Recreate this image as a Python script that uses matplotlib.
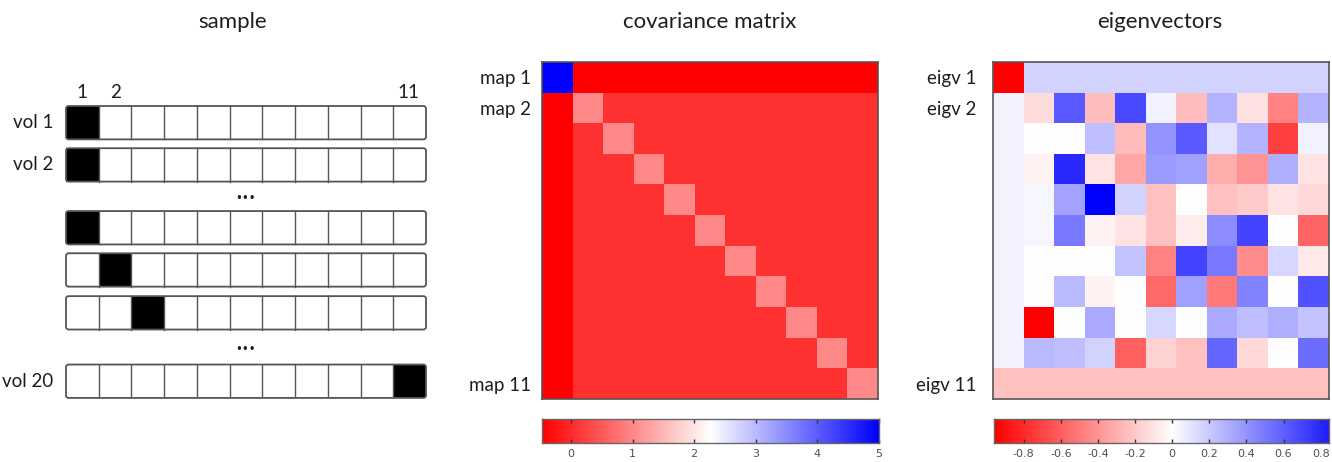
import numpy as np
import matplotlib
matplotlib.use("Agg")
import matplotlib.pyplot as plt
from matplotlib.colors import LinearSegmentedColormap, Normalize
from matplotlib.patches import Rectangle, FancyBboxPatch

plt.rcParams['font.family'] = ['Lato', 'DejaVu Sans']

# ---------------- data ----------------
titles = ["sample", "covariance matrix", "eigenvectors"]

vol_labels = ["vol 1", "vol 2", "", "", "", "vol 20"]
active_map = [1, 1, 1, 2, 3, 11]          # which map (1..11) is "on" in each shown volume
n_maps = 11
col_labels = {1: "1", 2: "2", 11: "11"}

cov_first = 5.0          # variance of map 1
cov_first_other = -0.5   # covariance of map 1 with the others
cov_diag = 1.0           # variance of maps 2..11
cov_off = 0.05           # covariance among maps 2..11
cov_vmin, cov_vmax = -0.47, 5.0
cov_ticks = [0, 1, 2, 3, 4, 5]
cov_labels = ["map 1", "map 2", "map 11"]

eig = np.array([
    [-0.96] + [0.17] * 10,
    [0.05, -0.13, 0.62, -0.25, 0.68, 0.05, -0.25, 0.28, -0.12, -0.47, 0.28],
    [0.05, 0.00, 0.00, 0.24, -0.26, 0.40, 0.62, 0.11, 0.28, -0.72, 0.05],
    [0.05, -0.05, 0.80, -0.10, -0.33, 0.38, 0.36, -0.30, -0.40, 0.30, -0.10],
    [0.05, 0.03, 0.34, 0.96, 0.17, -0.24, 0.00, -0.24, -0.20, -0.10, -0.15],
    [0.05, 0.03, 0.50, -0.05, -0.10, -0.24, -0.07, 0.43, 0.70, 0.00, -0.58],
    [0.05, 0.00, 0.00, 0.00, 0.22, -0.47, 0.70, 0.50, -0.43, 0.15, -0.09],
    [0.05, 0.00, 0.26, -0.05, 0.00, -0.57, 0.36, -0.50, 0.47, 0.00, 0.65],
    [0.05, -0.96, 0.00, 0.32, 0.00, 0.15, 0.00, 0.32, 0.24, 0.30, 0.22],
    [0.05, 0.26, 0.24, 0.17, -0.60, -0.17, -0.24, 0.58, -0.15, 0.00, 0.55],
    [-0.24] * 11,
])
eig_vmin, eig_vmax = -0.96, 0.96
eig_cb_range = (-0.96, 0.845)
eig_ticks = [-0.8, -0.6, -0.4, -0.2, 0, 0.2, 0.4, 0.6, 0.8]
eig_tick_labels = ["-0.8", "-0.6", "-0.4", "-0.2", "0", "0.2", "0.4", "0.6", "0.8"]
eig_labels = ["eigv 1", "eigv 2", "eigv 11"]

# ---------------- figure ----------------
W, H = 1332, 462
fig = plt.figure(figsize=(W / 100, H / 100), dpi=100)

def px_axes(x0, y0, x1, y1):
    return fig.add_axes([x0 / W, 1 - y1 / H, (x1 - x0) / W, (y1 - y0) / H])

cmap = LinearSegmentedColormap.from_list("rwb", ["#ff0000", "#ffffff", "#0000ff"])
edge = "#555555"
txt = "#1e1e1e"

# ---------------- sample panel ----------------
ax_s = px_axes(66, 106, 426, 398)
unit = 360 / 11.0
ax_s.set_xlim(0, 11)
ax_s.set_ylim(292 / unit, 0)
ax_s.axis("off")
slot_y = [0, 1.29, 3.21, 4.5, 5.81, 7.9]   # layout of strips
strip_h = 1.02
for yy, lab, act in zip(slot_y, vol_labels, active_map):
    ax_s.add_patch(Rectangle((act - 1, yy), 1, strip_h, facecolor="black",
                             edgecolor="none", zorder=1))
    for c in range(1, n_maps):
        ax_s.plot([c, c], [yy, yy + strip_h], color=edge, lw=1.0, zorder=2)
    ax_s.add_patch(FancyBboxPatch((0, yy), 11, strip_h,
                                  boxstyle="round,pad=0,rounding_size=0.08",
                                  facecolor="none", edgecolor=edge, lw=1.3,
                                  zorder=3, clip_on=False))
    if lab:
        ax_s.text(-0.38, yy + strip_h / 2, lab, ha="right", va="center",
                  fontsize=13.5, color=txt)
for c, lab in col_labels.items():
    ax_s.text(c - 0.5 + (0.0 if c != 11 else -0.05), -0.42, lab,
              ha="center", va="center", fontsize=13.5, color=txt, clip_on=False)
for yy in [2.83, 7.45]:
    ax_s.text(5.5, yy, "\u2022\u2022\u2022", ha="center", va="center",
              fontsize=8.5, color=txt, family="DejaVu Sans")
fig.text(233 / W, 1 - 22 / H, titles[0], ha="center", va="center", fontsize=16,
         color=txt)

# ---------------- covariance ----------------
cov = np.full((n_maps, n_maps), cov_off)
np.fill_diagonal(cov, cov_diag)
cov[0, :] = cov_first_other
cov[:, 0] = cov_first_other
cov[0, 0] = cov_first

ax_c = px_axes(542, 62, 878, 399)
cnorm = Normalize(cov_vmin, cov_vmax)
ax_c.imshow(cov, cmap=cmap, norm=cnorm, aspect="auto", interpolation="nearest")
ax_c.set_xticks([])
ax_c.set_yticks([0, 1, 10])
ax_c.set_yticklabels(cov_labels, fontsize=13.5, color=txt)
ax_c.tick_params(axis="y", length=0, pad=8)
for s in ax_c.spines.values():
    s.set_color(edge); s.set_linewidth(1.2)
fig.text(710 / W, 1 - 22 / H, titles[1], ha="center", va="center", fontsize=16,
         color=txt)

def colorbar(x0, x1, lo, hi, vmin, vmax, ticks, labels):
    ax = px_axes(x0, 419, x1, 443)
    vals = np.linspace(lo, hi, 400)[None, :]
    ax.imshow(vals, cmap=cmap, norm=Normalize(vmin, vmax), aspect="auto",
              extent=(lo, hi, 0, 1), interpolation="bilinear")
    ax.set_xlim(lo, hi)
    ax.set_yticks([])
    ax.set_xticks(ticks)
    ax.set_xticklabels(labels, fontsize=8, color="#505050", family="DejaVu Sans")
    ax.tick_params(axis="x", direction="in", length=3, width=1, color="#333333",
                   top=True, bottom=True, pad=4)
    for s in ax.spines.values():
        s.set_color("#666666"); s.set_linewidth(1.0)
    return ax

colorbar(542, 879, cov_vmin, cov_vmax, cov_vmin, cov_vmax, cov_ticks,
         [str(t) for t in cov_ticks])

# ---------------- eigenvectors ----------------
ax_e = px_axes(993, 62, 1329, 399)
ax_e.imshow(eig, cmap=cmap, norm=Normalize(eig_vmin, eig_vmax),
            aspect="auto", interpolation="nearest")
ax_e.set_xticks([])
ax_e.set_yticks([0, 1, 10])
ax_e.set_yticklabels(eig_labels, fontsize=13.5, color=txt)
ax_e.tick_params(axis="y", length=0, pad=12)
for s in ax_e.spines.values():
    s.set_color(edge); s.set_linewidth(1.2)
fig.text(1160 / W, 1 - 22 / H, titles[2], ha="center", va="center", fontsize=16,
         color=txt)

colorbar(994, 1329, eig_cb_range[0], eig_cb_range[1], eig_vmin, eig_vmax, eig_ticks,
         eig_tick_labels)

fig.savefig("out.png", dpi=100)
